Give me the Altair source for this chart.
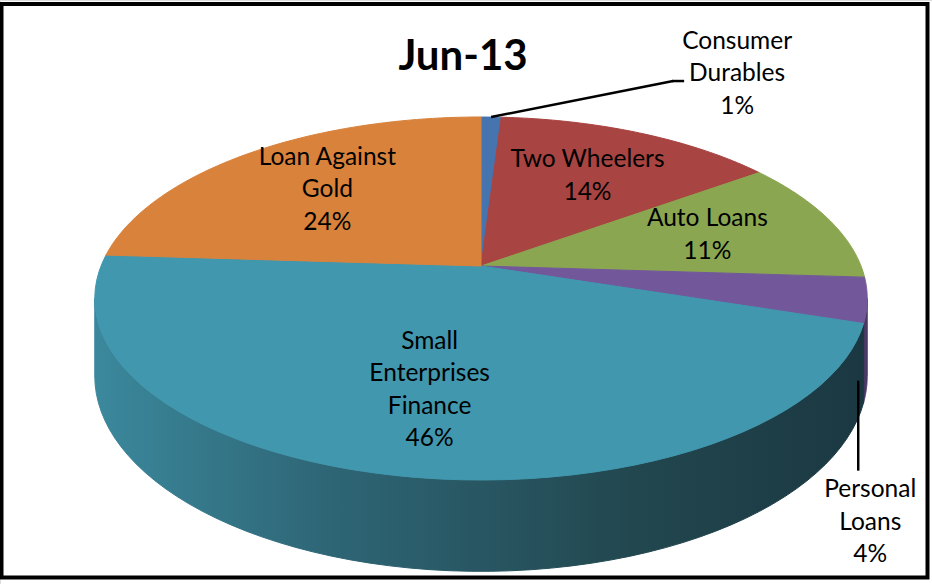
import altair as alt
import pandas as pd

# ---------------- data ----------------
categories = ["Consumer Durables", "Two Wheelers", "Auto Loans",
              "Personal Loans", "Small Enterprises Finance", "Loan Against Gold"]
shares = [1, 14, 11, 4, 46, 24]
label_text = ["Consumer\nDurables", "Two Wheelers", "Auto Loans",
              "Personal\nLoans", "Small\nEnterprises\nFinance", "Loan Against\nGold"]
title_text = "Jun-13"

# ---------------- styles ----------------
top_colors = ["#4674AE", "#A84442", "#8AA650", "#72589A", "#4097AE", "#D9823B"]
side_colors = ["#2E4D73", "#6E2C2B", "#5B6E34", "#4A3965", "#2A6373", "#8F5527"]
outside = ["Consumer Durables", "Personal Loans"]
FONT = "Lato"
FS = 24.5
LH = 32.5

W, H = 932, 584
CX, CY = 481, 266          # pie centre (px)
RA, RB = 380, 175.7        # horizontal / vertical radius
K = 0.179                  # perspective factor
DEPTH = 75                 # thickness of the pie
N = 60                     # points per arc
LABEL_R = 0.64

df = pd.DataFrame({"cat": categories, "share": shares, "label": label_text,
                   "idx": list(range(len(categories)))})

xs = alt.Scale(domain=[0, W], nice=False, zero=False)
ys = alt.Scale(domain=[0, H], nice=False, zero=False, reverse=True)
top_scale = alt.Scale(domain=categories, range=top_colors)
side_scale = alt.Scale(domain=categories, range=side_colors)


def X(f):
    return alt.X(f"{f}:Q", scale=xs, axis=None)


def Y(f):
    return alt.Y(f"{f}:Q", scale=ys, axis=None)


base = (alt.Chart(df)
        .transform_window(cum="sum(share)", sort=[alt.SortField("idx", order="ascending")],
                          frame=[None, 0])
        .transform_joinaggregate(total="sum(share)")
        .transform_calculate(f1="datum.cum / datum.total")
        .transform_calculate(f0="(datum.cum - datum.share) / datum.total"))

# ---------- top faces ----------
top = (base
       .transform_calculate(k=f"sequence(0, {N + 3})")
       .transform_flatten(["k"])
       .transform_calculate(kk=f"datum.k > {N + 1} ? 0 : datum.k")
       .transform_calculate(ang=f"2*PI*(datum.f0 + (datum.f1 - datum.f0) * min(datum.kk, {N}) / {N})")
       .transform_calculate(s=f"1/(1 + {K}*cos(datum.ang))")
       .transform_calculate(x=f"datum.kk == {N + 1} ? {CX} : {CX} + {RA}*sin(datum.ang)*datum.s")
       .transform_calculate(y=f"datum.kk == {N + 1} ? {CY} : {CY} - {RB}*cos(datum.ang)*datum.s")
       .mark_line(strokeWidth=1, strokeJoin="round", interpolate="linear")
       .encode(x=X("x"), y=Y("y"), order=alt.Order("k:Q"), detail="cat:N",
               fill=alt.Fill("cat:N", scale=top_scale, legend=None),
               stroke=alt.Stroke("cat:N", scale=top_scale, legend=None)))

# ---------- sides (front half only) ----------
FL = f"(acos(-{K})/(2*PI))"
side_base = (base
             .transform_calculate(g0=f"max(datum.f0, {FL})")
             .transform_calculate(g1=f"min(datum.f1, 1 - {FL})")
             .transform_filter("datum.g1 > datum.g0")
             .transform_calculate(k=f"sequence(0, {2 * N + 3})")
             .transform_flatten(["k"])
             .transform_calculate(bot=f"datum.k > {N} && datum.k <= {2 * N + 1} ? 1 : 0")
             .transform_calculate(j=f"datum.k <= {N} ? datum.k : (datum.k <= {2 * N + 1} ? {2 * N + 1} - datum.k : 0)")
             .transform_calculate(ang=f"2*PI*(datum.g0 + (datum.g1 - datum.g0) * datum.j / {N})")
             .transform_calculate(s=f"1/(1 + {K}*cos(datum.ang))")
             .transform_calculate(x=f"{CX} + {RA}*sin(datum.ang)*datum.s")
             .transform_calculate(y=f"{CY} - {RB}*cos(datum.ang)*datum.s + datum.bot*{DEPTH}*datum.s"))

sides_other = (side_base
               .transform_filter(alt.datum.cat != "Small Enterprises Finance")
               .mark_line(strokeWidth=1, strokeJoin="round")
               .encode(x=X("x"), y=Y("y"), order=alt.Order("k:Q"), detail="cat:N",
                       fill=alt.Fill("cat:N", scale=side_scale, legend=None),
                       stroke=alt.Stroke("cat:N", scale=side_scale, legend=None)))

grad = alt.LinearGradient(
    gradient="linear", x1=0, x2=1, y1=0, y2=0,
    stops=[alt.GradientStop(color="#3B889C", offset=0),
           alt.GradientStop(color="#2E6676", offset=0.3),
           alt.GradientStop(color="#22474F", offset=0.7),
           alt.GradientStop(color="#1B3842", offset=1)])

side_sef = (side_base
            .transform_filter(alt.datum.cat == "Small Enterprises Finance")
            .mark_line(fill=grad, stroke=grad, strokeWidth=1)
            .encode(x=X("x"), y=Y("y"), order=alt.Order("k:Q"), detail="cat:N"))

# ---------- labels ----------
anch = (base
        .transform_calculate(am="PI*(datum.f0 + datum.f1)")
        .transform_calculate(sm=f"1/(1 + {K}*cos(datum.am))")
        .transform_calculate(ex=f"{CX} + {RA}*sin(datum.am)*datum.sm")
        .transform_calculate(eyt=f"{CY} - {RB}*cos(datum.am)*datum.sm")
        .transform_calculate(eyb=f"datum.eyt + {DEPTH}*datum.sm")
        .transform_calculate(lsm=f"1/(1 + {K}*{LABEL_R}*cos(datum.am))")
        .transform_calculate(lx=f"{CX} + {RA}*{LABEL_R}*sin(datum.am)*datum.lsm")
        .transform_calculate(txt="datum.label + '\\n' + datum.share + '%'")
        .transform_calculate(half=f"(length(split(datum.txt, '\\n')) - 1) * {LH} / 2")
        .transform_calculate(ly=f"{CY} - {RB}*{LABEL_R}*cos(datum.am)*datum.lsm - datum.half")
        .transform_calculate(cdy="datum.eyt - datum.half")
        .transform_calculate(pdy="datum.eyb - datum.half"))

txt_style = dict(font=FONT, fontSize=FS, lineHeight=LH, lineBreak="\n", color="black",
                 align="center", baseline="middle")

inside = [c for c in categories if c not in outside]
labels_in = (anch.transform_filter(alt.FieldOneOfPredicate(field="cat", oneOf=inside))
             .mark_text(**txt_style)
             .encode(x=X("lx"), y=Y("ly"), text="txt:N"))

# Consumer Durables: leader from top edge up-right
cd = anch.transform_filter(alt.datum.cat == "Consumer Durables")
cd_lead1 = (cd.transform_calculate(x2="datum.ex + 182", y2="datum.eyt - 36")
            .mark_rule(color="black", strokeWidth=2.5)
            .encode(x=X("ex"), y=Y("eyt"), x2="x2:Q", y2="y2:Q"))
cd_lead2 = (cd.transform_calculate(x1="datum.ex + 181", x2="datum.ex + 193", y1="datum.eyt - 36")
            .mark_rule(color="black", strokeWidth=2.5)
            .encode(x=X("x1"), y=Y("y1"), x2="x2:Q"))
cd_text = cd.mark_text(dx=246, dy=-43, **txt_style).encode(x=X("ex"), y=Y("cdy"), text="txt:N")

# Personal Loans: leader straight down from the bottom rim
pl = anch.transform_filter(alt.datum.cat == "Personal Loans")
pl_lead = (pl.transform_calculate(x1="datum.ex - 9", y1="datum.eyb + 3", y2="datum.eyb + 93")
           .mark_rule(color="black", strokeWidth=2.5)
           .encode(x=X("x1"), y=Y("y1"), y2="y2:Q"))
pl_text = pl.mark_text(dx=3, dy=145, **txt_style).encode(x=X("ex"), y=Y("pdy"), text="txt:N")

# ---------- title and frame ----------
one = pd.DataFrame({"t": [title_text]})
title = (alt.Chart(one)
         .mark_text(font=FONT, fontSize=42, fontWeight="bold", color="black",
                    align="center", baseline="alphabetic")
         .encode(text="t:N", x=alt.value(463), y=alt.value(70)))
frame = (alt.Chart(one)
         .mark_rect(fill="transparent", stroke="black", strokeWidth=4)
         .encode(x=alt.value(1.5), x2=alt.value(927.5), y=alt.value(4), y2=alt.value(577.5)))

chart = (alt.layer(frame, sides_other, side_sef, top, labels_in,
                   cd_lead1, cd_lead2, cd_text, pl_lead, pl_text, title)
         .resolve_scale(fill="independent", stroke="independent")
         .properties(width=W, height=H, padding=0, autosize="none")
         .configure_view(stroke=None)
         .configure(background="white"))

chart.save("out.html", embed_options={"renderer": "svg", "actions": False})
